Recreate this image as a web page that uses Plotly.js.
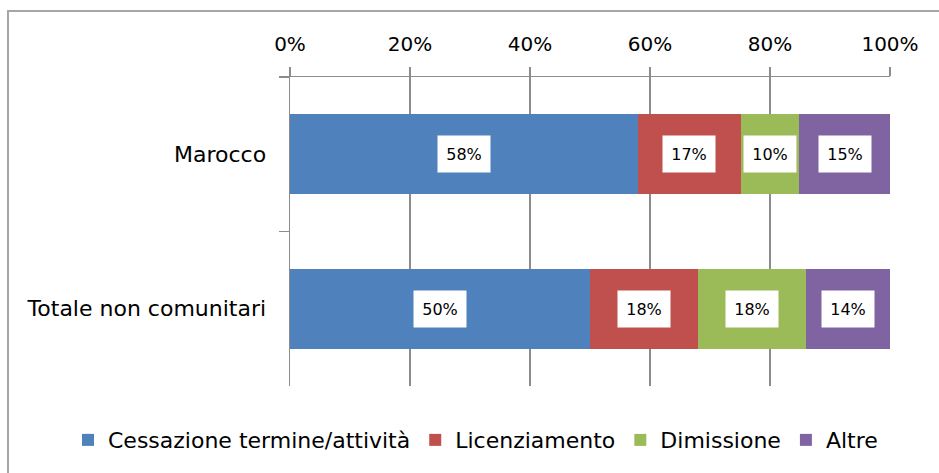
<!DOCTYPE html>
<html>
<head>
<meta charset="utf-8">
<script src="https://cdn.plot.ly/plotly-3.0.1.min.js"></script>
<style>
html,body{margin:0;padding:0;background:#fff;overflow:hidden;}
#frame{position:absolute;left:7px;top:10px;width:1000px;height:1000px;border-left:2px solid #a6a6a6;border-top:2px solid #a6a6a6;}
#chart{position:absolute;left:0;top:0;width:939px;height:473px;}
</style>
</head>
<body>
<div id="frame"></div>
<div id="chart"></div>
<script>
var categories = ["Marocco", "Totale non comunitari"];
var seriesNames = ["Cessazione termine/attività", "Licenziamento", "Dimissione", "Altre"];
var cessazione = [58, 50];
var licenziamento = [17.1, 18];
var dimissione = [9.7, 18];
var altre = [15.3, 14];
var colors = ["#4F81BD", "#C0504D", "#9BBB59", "#8064A2"];
var tickVals = [0, 20, 40, 60, 80, 100];
var tickText = ["0%", "20%", "40%", "60%", "80%", "100%"];

var series = [cessazione, licenziamento, dimissione, altre];
var FONT = "DejaVu Sans, Verdana, sans-serif";

var traces = series.map(function(vals, i){
  return {
    type: "bar",
    orientation: "h",
    name: seriesNames[i],
    x: vals,
    y: categories,
    marker: {color: colors[i], line: {width: 0}},
    hoverinfo: "skip"
  };
});

var annotations = [];
categories.forEach(function(cat, j){
  var cum = 0;
  series.forEach(function(vals){
    var v = vals[j];
    annotations.push({
      x: cum + v/2, y: cat, xref: "x", yref: "y",
      text: Math.round(v) + "%",
      showarrow: false,
      bgcolor: "#ffffff",
      width: 50, height: 34,
      font: {family: FONT, size: 16, color: "#000"}
    });
    cum += v;
  });
});

var layout = {
  width: 939, height: 473,
  paper_bgcolor: "rgba(0,0,0,0)",
  plot_bgcolor: "rgba(0,0,0,0)",
  margin: {l: 290, r: 49, t: 77, b: 87, autoexpand: false},
  barmode: "stack",
  bargap: 0.484,
  showlegend: true,
  legend: {
    orientation: "h",
    xref: "paper", yref: "paper",
    x: -0.37, y: -0.175, xanchor: "left", yanchor: "middle",
    font: {family: FONT, size: 22, color: "#000"},
    itemwidth: 30,
    traceorder: "normal"
  },
  xaxis: {
    side: "top",
    range: [0, 100],
    tickvals: tickVals,
    ticktext: tickText,
    showgrid: true,
    gridcolor: "#8c8c8c",
    gridwidth: 1.5,
    showline: true,
    linecolor: "#8c8c8c",
    linewidth: 1.5,
    ticks: "outside",
    ticklen: 9,
    tickwidth: 1.5,
    tickcolor: "#8c8c8c",
    ticklabelstandoff: 8,
    zeroline: false,
    fixedrange: true,
    tickfont: {family: FONT, size: 20, color: "#000"}
  },
  yaxis: {
    type: "category",
    autorange: "reversed",
    showline: true,
    linecolor: "#8c8c8c",
    linewidth: 1.5,
    ticks: "outside",
    tickson: "boundaries",
    ticklen: 10,
    tickwidth: 1.5,
    tickcolor: "#8c8c8c",
    showgrid: false,
    fixedrange: true,
    ticklabelstandoff: 18,
    tickfont: {family: FONT, size: 22, color: "#000"}
  },
  annotations: annotations
};

Plotly.newPlot("chart", traces, layout, {displayModeBar: false, staticPlot: true});
</script>
</body>
</html>
